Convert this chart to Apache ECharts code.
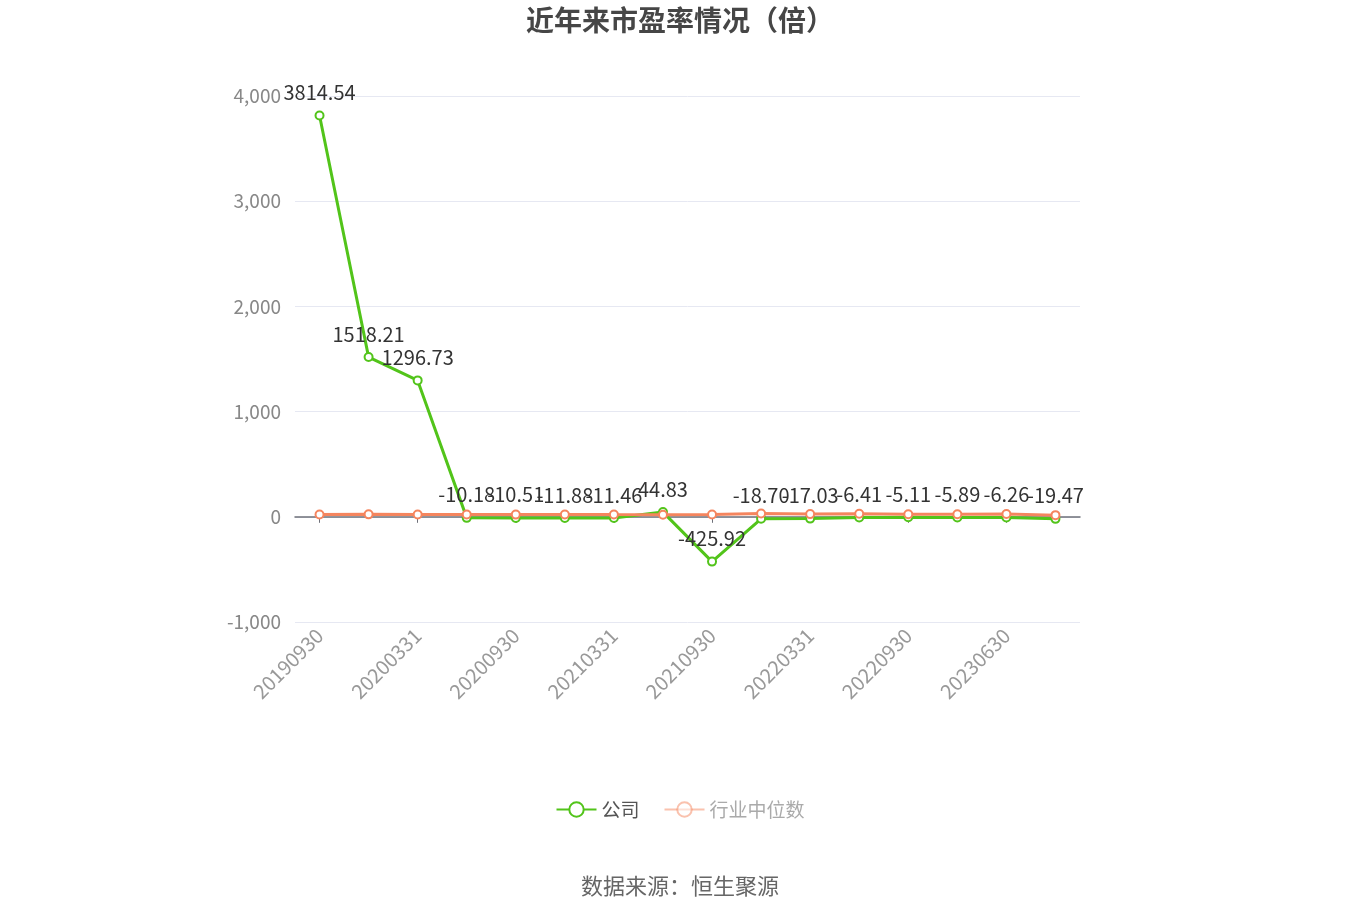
<!DOCTYPE html>
<html>
<head>
<meta charset="utf-8">
<script src="https://cdn.jsdelivr.net/npm/echarts@6/dist/echarts.min.js"></script>
<style>html,body{margin:0;padding:0;background:#fff;}#main{width:1360px;height:920px;}</style>
</head>
<body>
<div id="main"></div>
<script>
const categories = ['20190930','20191231','20200331','20200630','20200930','20201231','20210331','20210630','20210930','20211231','20220331','20220630','20220930','20230331','20230630','20230930'];
const companyPE = [3814.54, 1518.21, 1296.73, -10.18, -10.51, -11.88, -11.46, 44.83, -425.92, -18.70, -17.03, -6.41, -5.11, -5.89, -6.26, -19.47];
const industryPE = [22.5, 23.1, 21.8, 21.5, 20.9, 22.5, 21.1, 20.3, 21.6, 32.2, 25.5, 29.0, 24.1, 23.4, 25.8, 15.9];
const yTicks = {min: -1000, max: 4000, interval: 1000};

const chart = echarts.init(document.getElementById('main'));
const font = '"Noto Sans CJK SC", "Noto Sans", sans-serif';
chart.setOption({
  backgroundColor: '#fff',
  textStyle: {fontFamily: font},
  title: {
    text: '近年来市盈率情况（倍）',
    left: 'center', top: 1,
    textStyle: {fontSize: 28, fontWeight: 'bold', color: '#464646', fontFamily: font}
  },
  legend: {
    bottom: 96, left: 'center',
    itemWidth: 40, itemHeight: 18, itemGap: 24,
    textStyle: {fontSize: 19, color: '#555', fontFamily: font},
    data: [
      {name: '公司'},
      {name: '行业中位数', itemStyle: {opacity: 0.5}, lineStyle: {opacity: 0.5}, textStyle: {color: '#aaa'}}
    ]
  },
  grid: {left: 295, right: 280, top: 96, bottom: 298},
  xAxis: [
    {
      type: 'category', data: categories, boundaryGap: true,
      axisLine: {onZero: true, lineStyle: {color: '#6e7079', width: 1.5}},
      axisTick: {show: true, alignWithLabel: true, interval: 1, length: 6, lineStyle: {color: '#6e7079'}},
      axisLabel: {show: false}
    },
    {
      type: 'category', data: categories, boundaryGap: true, position: 'bottom',
      axisLine: {show: false, onZero: false},
      axisTick: {show: false},
      axisLabel: {interval: 1, rotate: 45, fontSize: 20, color: '#999', margin: 10, fontFamily: font}
    }
  ],
  yAxis: {
    type: 'value', min: yTicks.min, max: yTicks.max, interval: yTicks.interval,
    axisLine: {show: false}, axisTick: {show: false},
    axisLabel: {fontSize: 19, color: '#888', margin: 14, fontFamily: font},
    splitLine: {lineStyle: {color: '#e6e8f2', width: 1}}
  },
  series: [
    {
      name: '公司', type: 'line', data: companyPE, xAxisIndex: 0,
      symbol: 'emptyCircle', symbolSize: 8,
      itemStyle: {color: '#52c41a', borderWidth: 2.5},
      lineStyle: {width: 3, color: '#52c41a'},
      label: {show: true, position: 'top', distance: 8, fontSize: 20, color: '#333', fontFamily: font,
        formatter: p => p.value.toFixed(2)},
      z: 3
    },
    {
      name: '行业中位数', type: 'line', data: industryPE, xAxisIndex: 0,
      symbol: 'emptyCircle', symbolSize: 8,
      itemStyle: {color: '#f5855e', borderWidth: 2.5},
      lineStyle: {width: 3, color: '#f5855e'},
      label: {show: false},
      z: 4
    }
  ],
  graphic: [{
    type: 'text', left: 'center', top: 875,
    style: {text: '数据来源：恒生聚源', fontSize: 22, fill: '#666', fontFamily: font}
  }]
});
</script>
</body>
</html>
